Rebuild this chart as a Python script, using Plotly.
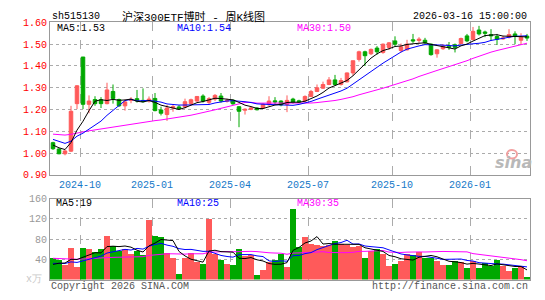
import plotly.graph_objects as go

W, H = 545, 300

# ---------------- data (weekly, 80 weeks) ----------------
opens = [1.048, 1.019, 0.997, 1.009, 1.227, 1.441, 1.224, 1.246, 1.245, 1.227,
         1.283, 1.246, 1.217, 1.242, 1.250, 1.242, 1.240, 1.251, 1.198, 1.177,
         1.207, 1.212, 1.212, 1.227, 1.239, 1.262, 1.233, 1.248, 1.262, 1.238,
         1.243, 1.213, 1.197, 1.201, 1.207, 1.207, 1.222, 1.240, 1.239, 1.224,
         1.248, 1.240, 1.239, 1.260, 1.283, 1.298, 1.315, 1.336, 1.315, 1.327,
         1.368, 1.430, 1.465, 1.456, 1.482, 1.462, 1.485, 1.515, 1.471, 1.474,
         1.520, 1.517, 1.518, 1.500, 1.456, 1.479, 1.491, 1.497, 1.503, 1.538,
         1.521, 1.565, 1.556, 1.544, 1.535, 1.524, 1.532, 1.547, 1.518, 1.537]
highs = [1.052, 1.022, 1.016, 1.217, 1.312, 1.441, 1.265, 1.261, 1.257, 1.323,
         1.315, 1.250, 1.246, 1.257, 1.290, 1.297, 1.260, 1.276, 1.213, 1.221,
         1.222, 1.220, 1.250, 1.250, 1.262, 1.270, 1.257, 1.271, 1.276, 1.250,
         1.245, 1.215, 1.205, 1.212, 1.211, 1.230, 1.261, 1.257, 1.242, 1.265,
         1.254, 1.245, 1.265, 1.290, 1.315, 1.328, 1.349, 1.359, 1.345, 1.370,
         1.424, 1.470, 1.470, 1.480, 1.491, 1.503, 1.510, 1.536, 1.503, 1.520,
         1.547, 1.532, 1.529, 1.503, 1.477, 1.500, 1.510, 1.503, 1.530, 1.547,
         1.579, 1.584, 1.562, 1.569, 1.547, 1.538, 1.569, 1.559, 1.550, 1.547]
lows = [1.015, 0.995, 0.990, 1.005, 1.202, 1.202, 1.183, 1.217, 1.207, 1.224,
        1.227, 1.212, 1.195, 1.229, 1.232, 1.232, 1.232, 1.192, 1.173, 1.148,
        1.190, 1.198, 1.205, 1.220, 1.236, 1.232, 1.224, 1.239, 1.232, 1.232,
        1.222, 1.119, 1.177, 1.197, 1.196, 1.203, 1.217, 1.224, 1.215, 1.188,
        1.227, 1.232, 1.235, 1.258, 1.280, 1.295, 1.312, 1.310, 1.310, 1.325,
        1.356, 1.420, 1.400, 1.450, 1.452, 1.456, 1.474, 1.491, 1.462, 1.471,
        1.506, 1.506, 1.500, 1.447, 1.438, 1.474, 1.474, 1.462, 1.500, 1.509,
        1.518, 1.540, 1.532, 1.515, 1.496, 1.520, 1.526, 1.500, 1.500, 1.515]
closes = [1.020, 0.997, 1.010, 1.192, 1.309, 1.224, 1.239, 1.227, 1.227, 1.290,
          1.251, 1.217, 1.235, 1.247, 1.239, 1.236, 1.248, 1.195, 1.183, 1.207,
          1.213, 1.204, 1.236, 1.245, 1.260, 1.239, 1.250, 1.265, 1.239, 1.242,
          1.226, 1.192, 1.201, 1.207, 1.199, 1.224, 1.239, 1.235, 1.221, 1.242,
          1.233, 1.235, 1.260, 1.283, 1.300, 1.315, 1.336, 1.315, 1.333, 1.368,
          1.424, 1.465, 1.447, 1.476, 1.465, 1.500, 1.506, 1.500, 1.488, 1.500,
          1.515, 1.523, 1.506, 1.452, 1.474, 1.491, 1.486, 1.485, 1.526, 1.515,
          1.559, 1.547, 1.550, 1.538, 1.523, 1.528, 1.544, 1.535, 1.532, 1.528]
volumes = [42.5, 39.3, 29.0, 62.8, 24.6, 62.8, 60.3, 54.5, 61.0, 87.0,
           66.6, 56.4, 60.3, 49.5, 57.0, 48.8, 117.5, 87.0, 85.0, 52.4,
           42.8, 10.6, 42.5, 52.4, 34.8, 31.6, 120.5, 50.0, 39.0, 31.3,
           29.7, 60.3, 47.0, 49.0, 9.0, 18.2, 35.0, 39.3, 50.0, 24.6,
           139.0, 64.0, 83.8, 69.5, 68.0, 65.4, 69.0, 77.0, 70.8, 69.0,
           64.4, 66.3, 43.5, 57.0, 60.0, 51.0, 26.5, 31.0, 36.7, 50.4,
           47.9, 54.2, 42.7, 42.7, 37.6, 28.7, 28.7, 37.6, 35.1, 22.3,
           36.0, 22.0, 32.0, 26.0, 39.0, 26.0, 16.0, 22.0, 26.0, 5.0]

# weeks before the first visible candle (only feed the moving averages)
prior_closes = [1.05, 1.08, 1.09, 1.10, 1.10, 1.09, 1.10, 1.10, 1.09, 1.10,
                1.11, 1.12, 1.13, 1.13, 1.12, 1.11, 1.10, 1.09, 1.09, 1.08,
                1.09, 1.10, 1.09, 1.08, 1.085, 1.06, 1.05, 1.03, 1.025]
prior_volumes = [55, 60, 52, 48, 45, 50, 44, 40, 46, 52, 48, 42, 45, 50, 47,
                 44, 40, 42, 45, 45, 36, 34, 32, 35, 33, 28, 27, 26, 26.3]

month_labels = ["2024-10", "2025-01", "2025-04", "2025-07", "2025-10", "2026-01"]
month_first_week = [5, 17, 30, 43, 57, 70]

price_ticks = [0.90, 1.00, 1.10, 1.20, 1.30, 1.40, 1.50, 1.60]
vol_ticks = [40, 80, 120, 160]

ma_price_text = ["MA5:1.53", "MA10:1.54", "MA30:1.50"]
ma_vol_text = ["MA5:19", "MA10:25", "MA30:35"]

title_code = "sh515130"
title_name = "沪深300ETF博时 - 周K线图"
title_time = "2026-03-16 15:00:00"

# ---------------- helpers ----------------
RED = "#FF5A5A"
GREEN = "#00A800"
BLUE = "#0000FF"
MAG = "#FF00FF"
MONO = "Liberation Mono, DejaVu Sans Mono, monospace"


def sma(prior, vals, n):
    full = list(prior) + list(vals)
    off = len(prior)
    return [sum(full[i - n + 1:i + 1]) / n for i in range(off, len(full))]


def fx(p):
    return p / W


def fy(p):
    return 1 - p / H


n = len(closes)
xs = list(range(n))
tick_pos = [i - 0.5 for i in month_first_week]

fig = go.Figure()

fig.add_trace(go.Candlestick(
    x=xs, open=opens, high=highs, low=lows, close=closes,
    increasing=dict(line=dict(color=RED, width=1), fillcolor=RED),
    decreasing=dict(line=dict(color=GREEN, width=1), fillcolor=GREEN),
    whiskerwidth=0, xaxis="x", yaxis="y", hoverinfo="skip", showlegend=False))

for per, col in [(30, MAG), (10, BLUE), (5, "#000000")]:
    fig.add_trace(go.Scatter(x=xs, y=sma(prior_closes, closes, per), mode="lines",
                             line=dict(color=col, width=1), xaxis="x", yaxis="y",
                             hoverinfo="skip", showlegend=False))

bar_colors = [RED if c >= o else GREEN for o, c in zip(opens, closes)]
fig.add_trace(go.Bar(x=xs, y=volumes, marker=dict(color=bar_colors, line=dict(width=0)),
                     width=0.84, xaxis="x2", yaxis="y2", hoverinfo="skip", showlegend=False))

for per, col in [(30, MAG), (10, BLUE), (5, "#000000")]:
    fig.add_trace(go.Scatter(x=xs, y=sma(prior_volumes, volumes, per), mode="lines",
                             line=dict(color=col, width=1), xaxis="x2", yaxis="y2",
                             hoverinfo="skip", showlegend=False))

xcommon = dict(domain=[fx(50), fx(530)], range=[-0.5, n - 0.5], tickvals=tick_pos,
               showgrid=True, gridcolor="#ABABAB", griddash="dash", gridwidth=1,
               showline=True, linecolor="#999999", linewidth=1, mirror=True,
               ticks="", zeroline=False, fixedrange=True)

fig.update_layout(
    width=W, height=H, margin=dict(l=0, r=0, t=0, b=0),
    paper_bgcolor="white", plot_bgcolor="white",
    boxgap=0.16, bargap=0, hovermode=False,
    xaxis=dict(**xcommon, anchor="y", ticktext=month_labels,
               tickfont=dict(family=MONO, size=10, color="#1478C8"),
               rangeslider=dict(visible=False)),
    xaxis2=dict(**xcommon, anchor="y2", showticklabels=False),
    yaxis=dict(domain=[fy(177), fy(18.1)], range=[0.9, 1.6], tickvals=price_ticks,
               tickformat=".2f", showgrid=True, gridcolor="#ABABAB", griddash="dot",
               showline=True, linecolor="#999999", mirror=True, ticks="",
               zeroline=False, fixedrange=True,
               tickfont=dict(family=MONO, size=10, color="#FF0000")),
    yaxis2=dict(domain=[fy(286), fy(201.6)], range=[0, 160], tickvals=vol_ticks,
                showgrid=True, gridcolor="#ABABAB", griddash="dot",
                showline=True, linecolor="#999999", mirror=True, ticks="",
                zeroline=False, fixedrange=True,
                tickfont=dict(family=MONO, size=10, color="#999999")),
)


def note(text, x, y, color="#000000", size=10, anchor="left", family=MONO, **kw):
    fig.add_annotation(text=text, x=fx(x), y=fy(y), xref="paper", yref="paper",
                       xanchor=anchor, yanchor="middle", showarrow=False,
                       font=dict(family=family, size=size, color=color), **kw)


note(title_code, 50, 12, size=10)
note(title_name, 120, 12, size=11, family="Liberation Mono, Noto Sans CJK SC")
note(title_time, 529, 12, anchor="right", size=10)

for txt, x, col in zip(ma_price_text, [55, 175, 295], ["#000000", BLUE, MAG]):
    note(txt, x, 24.5, color=col)
for txt, x, col in zip(ma_vol_text, [54, 175, 295], ["#000000", BLUE, MAG]):
    note(txt, x, 207, color=col)

note("x万", 44, 286, color="#C8C8C8", anchor="right", size=10)
note("Copyright 2026 SINA.COM", 49, 293, color="#555555")
note("http://finance.sina.com.cn", 530, 293, color="#555555", anchor="right")

# sina watermark
fig.add_shape(type="circle", xref="paper", yref="paper",
              x0=fx(507), x1=fx(517), y0=fy(160), y1=fy(151),
              line=dict(color="#F2A0A0", width=2))
note("<b><i>sina</i></b>", 513, 164, color="#B8B8B8", anchor="center", size=16,
     family="DejaVu Sans, sans-serif")

fig.write_html("out.html", config={"displayModeBar": False, "staticPlot": True})
